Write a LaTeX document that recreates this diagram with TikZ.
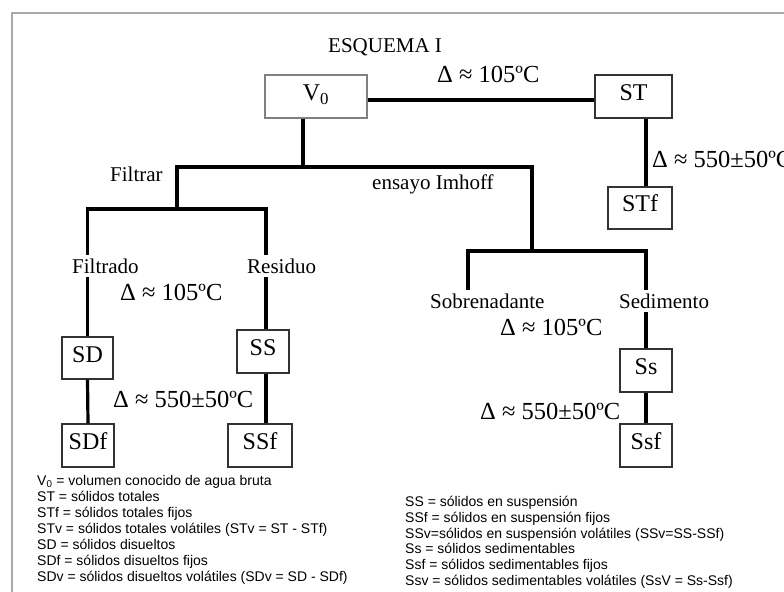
\documentclass[tikz,border=0pt]{standalone}
\usepackage{fontspec}
\setmainfont{Liberation Serif}
\newfontfamily\legendfont{Liberation Sans}
\definecolor{FrameGray}{RGB}{170,170,170}
\definecolor{BoxGray}{RGB}{50,50,50}

\begin{document}
\begin{tikzpicture}[x=1bp,y=-1bp,line cap=butt,line join=miter]
  \path[use as bounding box] (0,0) rectangle (784,592);
  \fill[white] (0,0) rectangle (784,592);

  \tikzset{
    samplebox/.style={draw=BoxGray,line width=1.3bp,fill=white,inner sep=0pt,
      text height=16bp,text depth=8bp,font=\fontsize{24bp}{24bp}\selectfont},
    conn/.style={line width=3.2bp,draw=black},
    tag/.style={anchor=base west,inner sep=0pt,font=\fontsize{21bp}{21bp}\selectfont},
    cutlabel/.style={tag,fill=white,inner xsep=1bp,inner ysep=3.5bp},
    heatnote/.style={anchor=base west,inner sep=0pt,font=\fontsize{24.5bp}{24.5bp}\selectfont},
    legendline/.style={anchor=base west,inner sep=0pt,font=\legendfont\fontsize{14bp}{14bp}\selectfont},
  }

  % Frame (top and left edges)
  \draw[line width=1.3bp,draw=FrameGray] (12,600) -- (12,13) -- (800,13);

  % Title
  \node[tag] (title) at (328,53) {ESQUEMA I};

  % ==================== BOXES ====================
  \node[samplebox,draw=black!50,minimum width=102bp,minimum height=43bp] (v0) at (316,96.5) {V\textsubscript{0}};
  \node[samplebox,minimum width=77bp,minimum height=43bp] (st) at (633.5,96.5) {ST};
  \node[samplebox,minimum width=64bp,minimum height=42bp] (stf) at (640,208) {STf};
  \node[samplebox,minimum width=51bp,minimum height=42bp] (sd) at (87.5,358) {SD};
  \node[samplebox,minimum width=52bp,minimum height=43bp] (sdf) at (88,445.5) {SDf};
  \node[samplebox,minimum width=52bp,minimum height=43bp] (ss) at (263,351.5) {SS};
  \node[samplebox,minimum width=64bp,minimum height=43bp] (ssf) at (260,445.5) {SSf};
  \node[samplebox,minimum width=52bp,minimum height=43bp] (sse) at (646,370.5) {Ss};
  \node[samplebox,minimum width=52bp,minimum height=43bp] (ssef) at (646,445.5) {Ssf};

  % ==================== CONNECTORS ====================
  \coordinate (heatline) at (450,100);
  \coordinate (stdrop) at (646,118);
  \coordinate (split) at (303,167);
  \coordinate (filtrarL) at (177,167);
  \coordinate (imhoffR) at (532,167);
  \coordinate (forkL) at (177,209);
  \coordinate (residuoTop) at (266,209);
  \coordinate (forkR) at (532,251);
  \coordinate (sobreTop) at (468,251);
  \coordinate (sobreEnd) at (468,290);
  \coordinate (sediTop) at (646,251);

  \draw[conn] (v0.east |- heatline) -- (st.west |- heatline);
  \draw[conn] (st.south -| stdrop) -- (stf.north -| stdrop);
  \draw[conn] (v0.south -| split) -- (split);
  \draw[conn] (forkL) -- (filtrarL) -- (imhoffR) -- (forkR);

  % Filtrado / Residuo
  \draw[conn] (sd.north) -- (sd.north |- forkL) -- (residuoTop) -- (residuoTop |- ss.north);
  \draw[conn] (sd.south) -- (sdf.north);
  \draw[conn] (ss.south -| residuoTop) -- (ssf.north -| residuoTop);

  % Sobrenadante / Sedimento
  \draw[conn] (sobreEnd) -- (sobreTop) -- (sediTop) -- (sse.north);
  \draw[conn] (sse.south) -- (ssef.north);

  % ==================== LABELS ====================
  \node[heatnote] (heat1) at (437,83) {Δ ≈ 105ºC};
  \node[heatnote] (heat2) at (652,168) {Δ ≈ 550±50ºC};
  \node[tag] (filtrar) at (110,182) {Filtrar};
  \node[tag] (imhoff) at (372,190) {ensayo Imhoff};
  \node[cutlabel] (filtrado) at (71,273) {Filtrado};
  \node[cutlabel] (residuo) at (246,273) {Residuo};
  \node[heatnote] (heat3) at (120,300) {Δ ≈ 105ºC};
  \node[heatnote] (heat4) at (113,407) {Δ ≈ 550±50ºC};
  \node[tag] (sobrenadante) at (430,308) {Sobrenadante};
  \node[cutlabel] (sedimento) at (618,308) {Sedimento};
  \node[heatnote] (heat5) at (500,335) {Δ ≈ 105ºC};
  \node[heatnote] (heat6) at (480,419) {Δ ≈ 550±50ºC};

  % ==================== LEGEND ====================
  \foreach \txt [count=\i] in {V\textsubscript{0} = volumen conocido de agua bruta,
      ST = sólidos totales,
      STf = sólidos totales fijos,
      STv = sólidos totales volátiles (STv = ST - STf),
      SD = sólidos disueltos,
      SDf = sólidos disueltos fijos,
      SDv = sólidos disueltos volátiles (SDv = SD - SDf)} {
    \node[legendline] (legL\i) at (37,{485+16*(\i-1)}) {\txt};
  }
  \foreach \txt [count=\i] in {SS = sólidos en suspensión,
      SSf = sólidos en suspensión fijos,
      SSv=sólidos en suspensión volátiles (SSv=SS-SSf),
      Ss = sólidos sedimentables,
      Ssf = sólidos sedimentables fijos,
      Ssv = sólidos sedimentables volátiles (SsV = Ss-Ssf)} {
    \node[legendline] (legR\i) at (405,{506.7+15.66*(\i-1)}) {\txt};
  }

\end{tikzpicture}
\end{document}
